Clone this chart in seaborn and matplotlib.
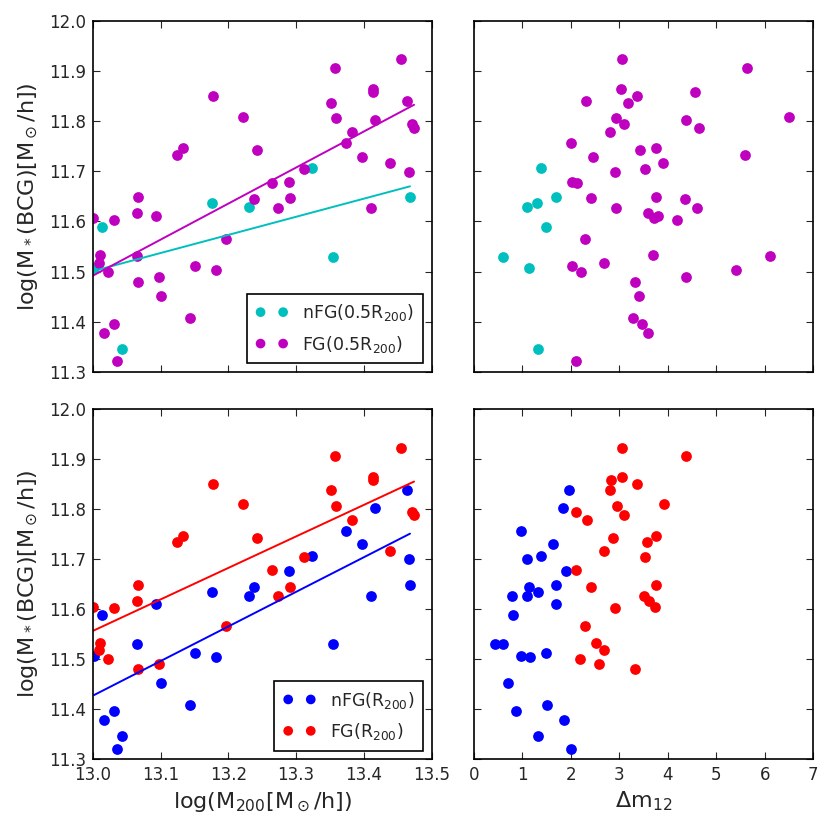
import numpy as np
import pandas as pd
import matplotlib
matplotlib.use("Agg")
import matplotlib.pyplot as plt
import seaborn as sns

# ---------------- data ----------------
# Top row: 0.5 R200
nfg05_logm = [13.324, 13.468, 13.176, 13.231, 13.014, 13.355, 13.002, 13.043]
nfg05_mstar = [11.706, 11.649, 11.636, 11.628, 11.588, 11.530, 11.507, 11.346]
nfg05_dm = [1.38, 1.69, 1.31, 1.09, 1.48, 0.59, 1.14, 1.33]

fg05_logm = [13.455, 13.357, 13.414, 13.414, 13.177, 13.464, 13.352, 13.221, 13.359, 13.417,
             13.471, 13.474, 13.383, 13.373, 13.133, 13.243, 13.125, 13.397, 13.438, 13.312,
             13.467, 13.290, 13.265, 13.067, 13.291, 13.238, 13.273, 13.410, 13.065, 13.094,
             13.000, 13.031, 13.196, 13.011, 13.065, 13.010, 13.151, 13.182, 13.023, 13.098,
             13.067, 13.100, 13.144, 13.031, 13.016, 13.036]
fg05_mstar = [11.923, 11.905, 11.864, 11.857, 11.849, 11.839, 11.836, 11.809, 11.806, 11.802,
              11.795, 11.787, 11.778, 11.756, 11.746, 11.742, 11.733, 11.729, 11.717, 11.704,
              11.699, 11.678, 11.677, 11.648, 11.646, 11.644, 11.626, 11.626, 11.616, 11.610,
              11.606, 11.602, 11.566, 11.533, 11.531, 11.518, 11.511, 11.504, 11.500, 11.489,
              11.480, 11.451, 11.408, 11.395, 11.378, 11.322]
fg05_dm = [3.05, 5.63, 3.04, 4.56, 3.37, 2.32, 3.17, 6.50, 2.93, 4.37,
           3.09, 4.65, 2.80, 2.01, 3.75, 3.42, 5.59, 2.46, 3.90, 3.53,
           2.90, 2.03, 2.13, 3.76, 2.42, 4.36, 4.60, 2.93, 3.59, 3.79,
           3.71, 4.19, 2.28, 3.70, 6.10, 2.68, 2.03, 5.40, 2.20, 4.38,
           3.32, 3.40, 3.28, 3.47, 3.60, 2.10]

# Bottom row: R200
nfg_logm = [13.464, 13.417, 13.373, 13.397, 13.324, 13.467, 13.290, 13.468, 13.238, 13.176,
            13.231, 13.410, 13.094, 13.014, 13.065, 13.355, 13.151, 13.002, 13.182, 13.100,
            13.144, 13.031, 13.016, 13.043, 13.036]
nfg_mstar = [11.839, 11.803, 11.756, 11.730, 11.706, 11.700, 11.677, 11.648, 11.644, 11.635,
             11.627, 11.626, 11.610, 11.588, 11.531, 11.530, 11.512, 11.506, 11.504, 11.452,
             11.408, 11.396, 11.378, 11.346, 11.321]
nfg_dm = [1.96, 1.83, 0.96, 1.62, 1.39, 1.09, 1.90, 1.70, 1.14, 1.32,
          1.09, 0.79, 1.70, 0.80, 0.43, 0.60, 1.48, 0.96, 1.15, 0.71,
          1.51, 0.86, 1.85, 1.33, 2.01]

fg_logm = [13.455, 13.357, 13.414, 13.414, 13.177, 13.352, 13.221, 13.359, 13.471, 13.474,
           13.383, 13.133, 13.243, 13.125, 13.438, 13.312, 13.265, 13.067, 13.291, 13.273,
           13.065, 13.001, 13.031, 13.196, 13.011, 13.010, 13.023, 13.098, 13.067]
fg_mstar = [11.923, 11.906, 11.865, 11.858, 11.850, 11.838, 11.810, 11.806, 11.795, 11.788,
            11.778, 11.747, 11.743, 11.734, 11.717, 11.705, 11.678, 11.649, 11.645, 11.626,
            11.616, 11.605, 11.602, 11.567, 11.532, 11.519, 11.501, 11.490, 11.480]
fg_dm = [3.05, 4.38, 3.05, 2.82, 3.37, 2.80, 3.92, 2.94, 2.10, 3.10,
         2.33, 3.75, 2.86, 3.57, 2.69, 3.53, 2.10, 3.76, 2.42, 3.50,
         3.61, 3.73, 2.90, 2.29, 2.52, 2.68, 2.19, 2.58, 3.33]

labels_top = [r'nFG(0.5$\mathrm{R_{200}}$)', r'FG(0.5$\mathrm{R_{200}}$)']
labels_bot = [r'nFG($\mathrm{R_{200}}$)', r'FG($\mathrm{R_{200}}$)']
y_ticks = [11.3, 11.4, 11.5, 11.6, 11.7, 11.8, 11.9, 12.0]
x_ticks_m = [13.0, 13.1, 13.2, 13.3, 13.4, 13.5]
x_ticks_dm = [0, 1, 2, 3, 4, 5, 6, 7]

# ---------------- style ----------------
sns.set_style("ticks")
plt.rcParams.update({
    "font.family": ["DejaVu Sans"],
    "mathtext.default": "regular",
    "xtick.direction": "in", "ytick.direction": "in",
    "xtick.top": True, "ytick.right": True,
    "xtick.major.size": 5, "ytick.major.size": 5,
    "xtick.major.width": 0.8, "ytick.major.width": 0.8,
    "axes.linewidth": 1.2, "axes.edgecolor": "black",
    "xtick.labelsize": 12, "ytick.labelsize": 12,
    "xtick.major.pad": 5, "ytick.major.pad": 5,
})

C_C = (0.0, 0.75, 0.75)
C_M = (0.75, 0.0, 0.75)
C_B = (0.0, 0.0, 1.0)
C_R = (1.0, 0.0, 0.0)

W, H = 831, 833
fig = plt.figure(figsize=(W / 100, H / 100), dpi=100)

def frac(x0, y0, x1, y1):
    return [x0 / W, 1 - y1 / H, (x1 - x0) / W, (y1 - y0) / H]

ax_tl = fig.add_axes(frac(92.7, 20.7, 431.7, 372.0))
ax_tr = fig.add_axes(frac(474.0, 20.7, 813.3, 372.0))
ax_bl = fig.add_axes(frac(92.7, 409.0, 431.7, 759.3))
ax_br = fig.add_axes(frac(474.0, 409.0, 813.3, 759.3))

S = 60

def panel(ax, xs_a, ys_a, xs_b, ys_b, ca, cb, labs, fit):
    da = pd.DataFrame({"x": xs_a, "y": ys_a})
    db = pd.DataFrame({"x": xs_b, "y": ys_b})
    sns.scatterplot(data=da, x="x", y="y", color=ca, s=S, linewidth=0, ax=ax, label=labs[0], legend=False)
    sns.scatterplot(data=db, x="x", y="y", color=cb, s=S, linewidth=0, ax=ax, label=labs[1], legend=False)
    if fit:
        sns.regplot(data=da, x="x", y="y", scatter=False, ci=None, truncate=True,
                    color=ca, line_kws={"lw": 1.4}, ax=ax)
        sns.regplot(data=db, x="x", y="y", scatter=False, ci=None, truncate=True,
                    color=cb, line_kws={"lw": 1.4}, ax=ax)

panel(ax_tl, nfg05_logm, nfg05_mstar, fg05_logm, fg05_mstar, C_C, C_M, labels_top, True)
panel(ax_tr, nfg05_dm, nfg05_mstar, fg05_dm, fg05_mstar, C_C, C_M, labels_top, False)
panel(ax_bl, nfg_logm, nfg_mstar, fg_logm, fg_mstar, C_B, C_R, labels_bot, True)
panel(ax_br, nfg_dm, nfg_mstar, fg_dm, fg_mstar, C_B, C_R, labels_bot, False)

for ax in (ax_tl, ax_bl):
    ax.set_xlim(13.0, 13.5)
    ax.set_xticks(x_ticks_m)
for ax in (ax_tr, ax_br):
    ax.set_xlim(0, 7)
    ax.set_xticks(x_ticks_dm)
for ax in (ax_tl, ax_tr, ax_bl, ax_br):
    ax.set_ylim(11.3, 12.0)
    ax.set_yticks(y_ticks)
    ax.set_xlabel("")
    ax.set_ylabel("")
    for sp in ax.spines.values():
        sp.set_visible(True)
        sp.set_color("black")

ax_tl.set_xticklabels([])
ax_tr.set_xticklabels([])
ax_tr.set_yticklabels([])
ax_br.set_yticklabels([])
ax_tl.set_yticklabels([f"{v:.1f}" for v in y_ticks])
ax_bl.set_yticklabels([f"{v:.1f}" for v in y_ticks])
ax_bl.set_xticklabels([f"{v:.1f}" for v in x_ticks_m])

ylab = r'log(M$_*$(BCG)[M$_\odot$/h])'
ax_tl.set_ylabel(ylab, fontsize=16, labelpad=6)
ax_bl.set_ylabel(ylab, fontsize=16, labelpad=6)
ax_bl.set_xlabel(r'log(M$_{200}$[M$_\odot$/h])', fontsize=16, labelpad=4)
ax_br.set_xlabel(r'$\Delta$m$_{12}$', fontsize=16, labelpad=4)

for ax in (ax_tl, ax_bl):
    leg = ax.legend(loc="lower right", scatterpoints=2, scatteryoffsets=[0.5],
                    markerscale=0.9, fontsize=12.5, fancybox=False,
                    framealpha=1, edgecolor="black", borderpad=0.5, handletextpad=0.8,
                    borderaxespad=0.5, labelspacing=0.6, handlelength=1.9)
    leg.get_frame().set_linewidth(1.2)

fig.savefig("out.png", dpi=100)
